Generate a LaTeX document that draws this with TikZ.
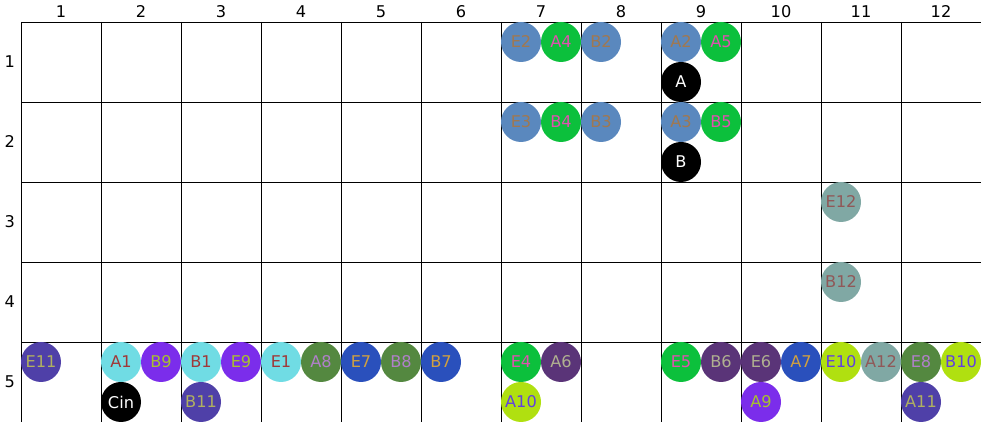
\documentclass[tikz,border=0pt]{standalone}
\usepackage{fontspec}
\setmainfont{DejaVu Sans}
\usepackage{xcolor}

\definecolor{steel}{HTML}{5A88BE}
\definecolor{steeltxt}{HTML}{A07850}
\definecolor{leaf}{HTML}{0CC03C}
\definecolor{leaftxt}{HTML}{E050B0}
\definecolor{aqua}{HTML}{70DCE4}
\definecolor{aquatxt}{HTML}{A03838}
\definecolor{grape}{HTML}{7B2DEB}
\definecolor{grapetxt}{HTML}{A8C030}
\definecolor{slate}{HTML}{4F40A8}
\definecolor{slatetxt}{HTML}{B0B060}
\definecolor{moss}{HTML}{548840}
\definecolor{mosstxt}{HTML}{B080C8}
\definecolor{royal}{HTML}{2A50BC}
\definecolor{royaltxt}{HTML}{D0A040}
\definecolor{plum}{HTML}{5A3478}
\definecolor{plumtxt}{HTML}{B0B090}
\definecolor{lime}{HTML}{B0E010}
\definecolor{limetxt}{HTML}{6040E0}
\definecolor{sage}{HTML}{80A8A4}
\definecolor{sagetxt}{HTML}{905858}

\begin{document}
\begin{tikzpicture}[x=2cm, y=-2cm,
  every node/.style={font=\fontsize{11.5}{13}\selectfont},
  pin/.style={circle, minimum size=1cm, inner sep=0pt},
  pinsteel/.style={pin, fill=steel, text=steeltxt},
  pinleaf/.style={pin, fill=leaf, text=leaftxt},
  pinblack/.style={pin, fill=black, text=white},
  pinaqua/.style={pin, fill=aqua, text=aquatxt},
  pingrape/.style={pin, fill=grape, text=grapetxt},
  pinslate/.style={pin, fill=slate, text=slatetxt},
  pinmoss/.style={pin, fill=moss, text=mosstxt},
  pinroyal/.style={pin, fill=royal, text=royaltxt},
  pinplum/.style={pin, fill=plum, text=plumtxt},
  pinlime/.style={pin, fill=lime, text=limetxt},
  pinsage/.style={pin, fill=sage, text=sagetxt}]
  \useasboundingbox (-0.2625, -0.275) rectangle (12, 5);

  % Grid
  \foreach \i in {0,...,11}
    \draw[line width=0.7pt] (\i, 0) -- (\i, 5);
  \foreach \j in {0,...,4}
    \draw[line width=0.7pt] (0, \j) -- (12, \j);

  % Column labels
  \node (col1) at (0.5, -0.13) {1};
  \node (col2) at (1.5, -0.13) {2};
  \node (col3) at (2.5, -0.13) {3};
  \node (col4) at (3.5, -0.13) {4};
  \node (col5) at (4.5, -0.13) {5};
  \node (col6) at (5.5, -0.13) {6};
  \node (col7) at (6.5, -0.13) {7};
  \node (col8) at (7.5, -0.13) {8};
  \node (col9) at (8.5, -0.13) {9};
  \node (col10) at (9.5, -0.13) {10};
  \node (col11) at (10.5, -0.13) {11};
  \node (col12) at (11.5, -0.13) {12};
  % Row labels
  \node (row1) at (-0.14, 0.5) {1};
  \node (row2) at (-0.14, 1.5) {2};
  \node (row3) at (-0.14, 2.5) {3};
  \node (row4) at (-0.14, 3.5) {4};
  \node (row5) at (-0.14, 4.5) {5};

  % Row 1
  \node[pinsteel] (E2) at (6.25, 0.25) {E2};
  \node[pinleaf]  (A4) at (6.75, 0.25) {A4};
  \node[pinsteel] (B2) at (7.25, 0.25) {B2};
  \node[pinsteel] (A2) at (8.25, 0.25) {A2};
  \node[pinleaf]  (A5) at (8.75, 0.25) {A5};
  \node[pinblack] (A)  at (8.25, 0.75) {A};
  % Row 2
  \node[pinsteel] (E3) at (6.25, 1.25) {E3};
  \node[pinleaf]  (B4) at (6.75, 1.25) {B4};
  \node[pinsteel] (B3) at (7.25, 1.25) {B3};
  \node[pinsteel] (A3) at (8.25, 1.25) {A3};
  \node[pinleaf]  (B5) at (8.75, 1.25) {B5};
  \node[pinblack] (B)  at (8.25, 1.75) {B};
  % Row 3
  \node[pinsage] (E12) at (10.25, 2.25) {E12};
  % Row 4
  \node[pinsage] (B12) at (10.25, 3.25) {B12};
  % Row 5
  \node[pinslate] (E11) at (0.25, 4.25) {E11};
  \node[pinaqua]  (A1)  at (1.25, 4.25) {A1};
  \node[pingrape] (B9)  at (1.75, 4.25) {B9};
  \node[pinblack] (Cin) at (1.25, 4.75) {Cin};
  \node[pinaqua]  (B1)  at (2.25, 4.25) {B1};
  \node[pingrape] (E9)  at (2.75, 4.25) {E9};
  \node[pinslate] (B11) at (2.25, 4.75) {B11};
  \node[pinaqua]  (E1)  at (3.25, 4.25) {E1};
  \node[pinmoss]  (A8)  at (3.75, 4.25) {A8};
  \node[pinroyal] (E7)  at (4.25, 4.25) {E7};
  \node[pinmoss]  (B8)  at (4.75, 4.25) {B8};
  \node[pinroyal] (B7)  at (5.25, 4.25) {B7};
  \node[pinleaf]  (E4)  at (6.25, 4.25) {E4};
  \node[pinplum]  (A6)  at (6.75, 4.25) {A6};
  \node[pinlime]  (A10) at (6.25, 4.75) {A10};
  \node[pinleaf]  (E5)  at (8.25, 4.25) {E5};
  \node[pinplum]  (B6)  at (8.75, 4.25) {B6};
  \node[pinplum]  (E6)  at (9.25, 4.25) {E6};
  \node[pinroyal] (A7)  at (9.75, 4.25) {A7};
  \node[pingrape] (A9)  at (9.25, 4.75) {A9};
  \node[pinlime]  (E10) at (10.25, 4.25) {E10};
  \node[pinsage]  (A12) at (10.75, 4.25) {A12};
  \node[pinmoss]  (E8)  at (11.25, 4.25) {E8};
  \node[pinlime]  (B10) at (11.75, 4.25) {B10};
  \node[pinslate] (A11) at (11.25, 4.75) {A11};
\end{tikzpicture}
\end{document}
